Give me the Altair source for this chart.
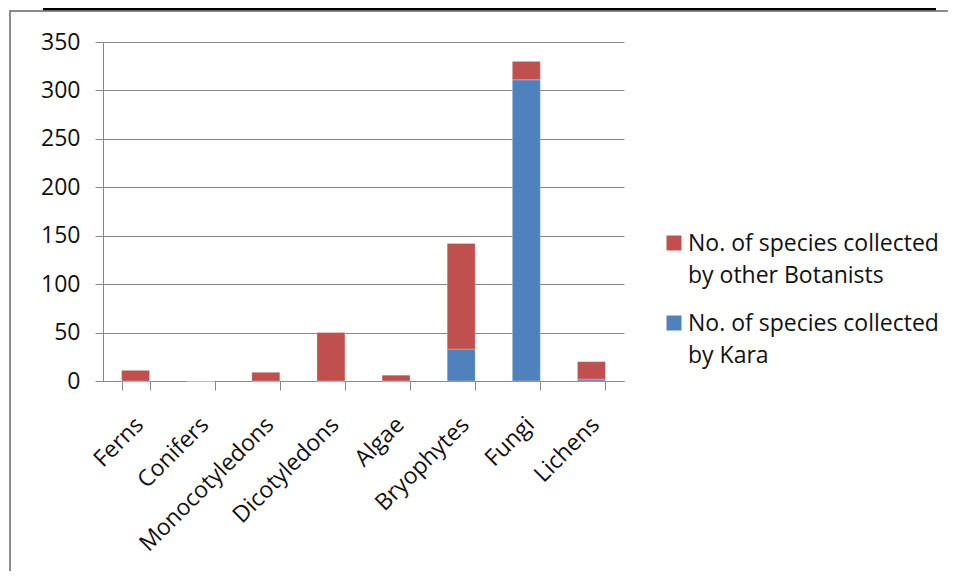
import altair as alt
import pandas as pd

categories = ["Ferns", "Conifers", "Monocotyledons", "Dicotyledons",
              "Algae", "Bryophytes", "Fungi", "Lichens"]
kara = [0, 0, 0, 0, 0, 33, 311, 2]
others = [11, 0, 9, 50, 6, 109, 19, 18]
series = ["No. of species collected by other Botanists",
          "No. of species collected by Kara"]
legend_lines = [["No. of species collected", "by other Botanists"],
                ["No. of species collected", "by Kara"]]
colors = ["#C0504D", "#4F81BD"]
y_ticks = [0, 50, 100, 150, 200, 250, 300, 350]

rows = []
for c, k, o in zip(categories, kara, others):
    rows.append({"category": c, "series": series[1], "value": k, "order": 0})
    rows.append({"category": c, "series": series[0], "value": o, "order": 1})
df = pd.DataFrame(rows)

FONT = "Open Sans"
GRID = "#878787"
TXT = "#111111"
color_scale = alt.Scale(domain=series, range=colors)

bars = alt.Chart(df).mark_bar(stroke="white", strokeOpacity=0.35, strokeWidth=0.8).encode(
    x=alt.X("category:N", sort=categories, title=None,
            scale=alt.Scale(paddingInner=0.57, paddingOuter=0.285),
            axis=alt.Axis(labelAngle=-45, labelAlign="right", labelBaseline="top",
                          tickBand="extent", tickSize=9, labelFontSize=23,
                          labelFont=FONT, labelColor=TXT, labelPadding=23,
                          labelOffset=-4,
                          domainColor=GRID, tickColor=GRID, grid=False)),
    y=alt.Y("value:Q", stack="zero", scale=alt.Scale(domain=[0, 350]),
            axis=alt.Axis(values=y_ticks, title=None, tickSize=8, labelPadding=15,
                          labelFontSize=23, labelFont=FONT, labelColor=TXT,
                          gridColor=GRID, domainColor=GRID, tickColor=GRID)),
    color=alt.Color("series:N", scale=color_scale, legend=None),
    order=alt.Order("order:Q"),
)

one = pd.DataFrame({"a": [0]})
frame = alt.Chart(one).mark_rect(fill="transparent", stroke="#8c8c8c", strokeWidth=2).encode(
    x=alt.value(-93), x2=alt.value(880), y=alt.value(-31), y2=alt.value(580))
topline = alt.Chart(one).mark_rule(color="black", strokeWidth=2.5).encode(
    x=alt.value(-60), x2=alt.value(833), y=alt.value(-33))

# legend (drawn manually so that wrapped labels get Excel-like line spacing)
legend_layers = []
for i, (name, lines) in enumerate(zip(series, legend_lines)):
    ldf = pd.DataFrame({"series": [name]})
    top = 201 + 80 * i
    legend_layers.append(
        alt.Chart(ldf).mark_square(size=225, opacity=1).encode(
            x=alt.value(571), y=alt.value(top),
            color=alt.Color("series:N", scale=color_scale, legend=None)))
    for j, line in enumerate(lines):
        legend_layers.append(
            alt.Chart(ldf).mark_text(text=line, align="left", baseline="alphabetic",
                                     font=FONT, fontSize=23, color=TXT).encode(
                x=alt.value(585), y=alt.value(top + 8 + 32 * j)))

chart = alt.layer(frame, topline, bars, *legend_layers).properties(
    width=521, height=339,
    padding={"left": 95, "top": 34, "right": 324, "bottom": 190},
    autosize=alt.AutoSizeParams(type="none"),
).configure_view(strokeWidth=0)

chart.save("out.html", embed_options={"renderer": "svg", "actions": False})
